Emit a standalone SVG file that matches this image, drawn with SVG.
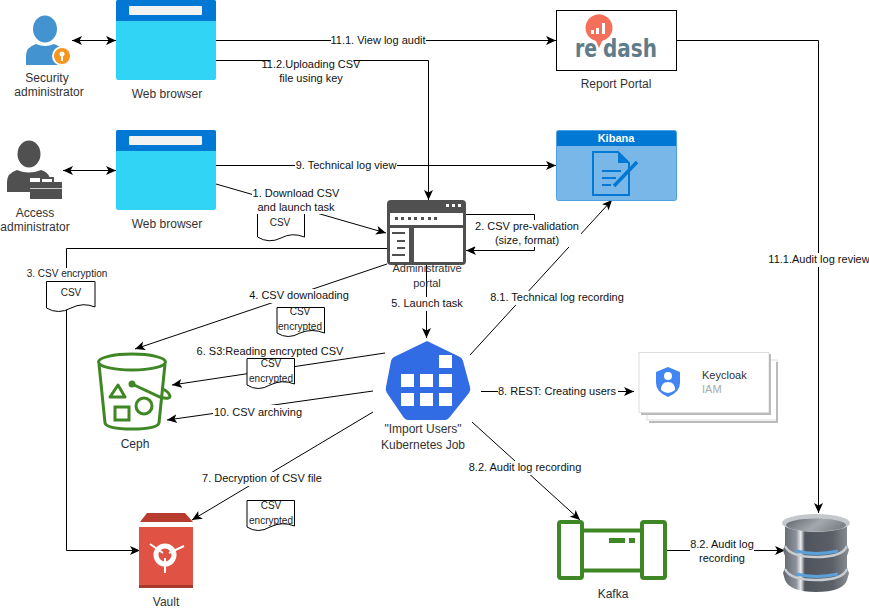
<svg xmlns="http://www.w3.org/2000/svg" width="869" height="609" viewBox="0 0 869 609">
<style>
text{font-family:"Liberation Sans",Arial,sans-serif;font-size:12px;fill:#333;text-anchor:middle}
.s{font-size:11px;fill:#111}
.d{font-size:10px;fill:#222}
.c{fill:none;stroke:#000;stroke-width:1}
.lb{fill:#fff;stroke:none}
.doc{fill:#fff;stroke:#000;stroke-width:1}
</style>
<defs>
<marker id="a" markerWidth="12" markerHeight="10" refX="10" refY="5" orient="auto-start-reverse" markerUnits="userSpaceOnUse"><path d="M0 0.500L10 5L0 9.500L2.500 5Z" fill="#000"/></marker>
<linearGradient id="cyl" x1="0" x2="1" y1="0" y2="0"><stop offset="0" stop-color="#62666e"/><stop offset=".2" stop-color="#8d929a"/><stop offset=".27" stop-color="#eceef0"/><stop offset=".33" stop-color="#50555d"/><stop offset=".75" stop-color="#5b6068"/><stop offset="1" stop-color="#8a8f96"/></linearGradient>
<linearGradient id="topg" x1="0" x2="1" y1="0" y2="0.300"><stop offset="0" stop-color="#5f646c"/><stop offset=".6" stop-color="#a4a8ae"/><stop offset="1" stop-color="#80848b"/></linearGradient>
</defs>

<g id="connectors">
<path class="c" marker-start="url(#a)" marker-end="url(#a)" d="M72 40.500H116"/>
<path class="c" marker-start="url(#a)" marker-end="url(#a)" d="M63 170.500H116"/>
<path class="c" marker-end="url(#a)" d="M216 40.500H556"/>
<path class="c" marker-end="url(#a)" d="M216 60.500H428.500V200"/>
<path class="c" marker-end="url(#a)" d="M216 165.500H556"/>
<path class="c" marker-end="url(#a)" d="M216 184L386 233"/>
<path class="c" marker-end="url(#a)" d="M466 214.500H534.500V250.500H466"/>
<path class="c" marker-end="url(#a)" d="M387 248.500H66.500V550.500H140"/>
<path class="c" marker-end="url(#a)" d="M387 264L135 349"/>
<path class="c" marker-end="url(#a)" d="M426.500 265V338"/>
<path class="c" marker-end="url(#a)" d="M385 353L172 385"/>
<path class="c" marker-end="url(#a)" d="M373 391L167 420"/>
<path class="c" marker-end="url(#a)" d="M373 412L192 520"/>
<path class="c" marker-end="url(#a)" d="M481 391.500H634"/>
<path class="c" marker-end="url(#a)" d="M470 355L612 200"/>
<path class="c" marker-end="url(#a)" d="M472 422L580 520"/>
<path class="c" marker-end="url(#a)" d="M667 550.500H785"/>
<path class="c" marker-end="url(#a)" d="M677 40.500H818.500V513"/>
</g>

<g id="doc-csv-1"><path class="doc" d="M257.500 213.500H304.500V237Q292 232 281 238Q269 244 257.500 237Z"/><text class="d" x="280" y="226">CSV</text></g>

<g id="connector-labels">
<rect class="lb" x="331" y="33" width="95" height="14"/><text class="s" x="378" y="44">11.1. View log audit</text>
<rect class="lb" x="270" y="58" width="84" height="27"/><text class="s" x="311" y="68">11.2.Uploading CSV</text><text class="s" x="311" y="82">file using key</text>
<rect class="lb" x="295" y="159" width="102" height="14"/><text class="s" x="346" y="169">9. Technical log view</text>
<rect class="lb" x="252" y="187" width="89" height="27"/><text class="s" x="296" y="197">1. Download CSV</text><text class="s" x="296" y="211">and launch task</text>
<rect class="lb" x="475" y="220" width="106" height="27"/><text class="s" x="527" y="230">2. CSV pre-validation</text><text class="s" x="527" y="244">(size, format)</text>
<rect class="lb" x="27" y="268" width="82" height="13"/><text class="d" x="67" y="277">3. CSV encryption</text>
<rect class="lb" x="248" y="289" width="102" height="14"/><text class="s" x="299" y="299">4. CSV downloading</text>
<rect class="lb" x="391" y="297" width="73" height="14"/><text class="s" x="427" y="307">5. Launch task</text>
<rect class="lb" x="490" y="291" width="134" height="14"/><text class="s" x="557" y="301">8.1. Technical log recording</text>
<rect class="lb" x="196" y="345" width="150" height="13"/><text class="s" x="270" y="355">6. S3:Reading encrypted CSV</text>
<rect class="lb" x="213" y="405" width="90" height="14"/><text class="s" x="258" y="416">10. CSV archiving</text>
<rect class="lb" x="201" y="472" width="124" height="14"/><text class="s" x="262" y="482">7. Decryption of CSV file</text>
<rect class="lb" x="498" y="384" width="120" height="14"/><text class="s" x="557" y="395">8. REST: Creating users</text>
<rect class="lb" x="469" y="461" width="114" height="14"/><text class="s" x="525" y="471">8.2. Audit log recording</text>
<rect class="lb" x="690" y="537" width="64" height="28"/><text class="s" x="722" y="548">8.2. Audit log</text><text class="s" x="722" y="562">recording</text>
<rect class="lb" x="766" y="253" width="103" height="14"/><text class="s" x="819" y="263">11.1.Audit log review</text>
</g>

<g id="doc-csv-2"><path class="doc" d="M46.500 281.500H95V307Q83 302 71 308Q58 315 46.500 308Z"/><text class="d" x="71" y="296">CSV</text></g>
<g id="doc-csv-3"><path class="doc" d="M277 307.500H324.500V333Q312 328 300 333Q288 340 277 333Z"/><text class="d" x="300" y="315">CSV</text><text class="d" x="300" y="330">encrypted</text></g>
<g id="doc-csv-4"><path class="doc" d="M247 358.500H294.500V384Q282 379 270 385Q258 392 247 385Z"/><text class="d" x="271" y="367">CSV</text><text class="d" x="271" y="382">encrypted</text></g>
<g id="doc-csv-5"><path class="doc" d="M247 500.500H294.500V526Q282 521 270 527Q258 534 247 527Z"/><text class="d" x="271" y="509">CSV</text><text class="d" x="271" y="524">encrypted</text></g>

<g id="security-admin">
<ellipse cx="45" cy="29" rx="12" ry="13.500" fill="#4393d0"/>
<path d="M26 65V56Q26 47 36 44Q45 48 54 44Q64 47 65 56V65Z" fill="#4393d0"/>
<circle cx="62" cy="56" r="10" fill="#fff"/><circle cx="62" cy="56" r="8" fill="#f7941d"/>
<circle cx="62" cy="54" r="2.500" fill="#fff"/><path d="M61 55H63V61H61Z" fill="#fff"/>
<text x="47" y="82">Security</text><text x="49" y="96">administrator</text>
</g>
<g id="browser-1">
<rect x="116" y="0" width="100" height="80" rx="2" fill="#32d4f5"/>
<path d="M116 21V2Q116 0 118 0H214Q216 0 216 2V21Z" fill="#0078d4"/>
<rect x="129" y="6" width="73" height="9" fill="#f2f2f2" rx="1"/>
<text x="167" y="98">Web browser</text>
</g>
<g id="access-admin">
<ellipse cx="29" cy="154" rx="11.500" ry="13.500" fill="#505050"/>
<path d="M7 192V182Q7 173 17 170Q29 175 41 170Q48 172 50 178H30V192Z" fill="#505050"/>
<path d="M41 182V178H53V182" stroke="#505050" stroke-width="2" fill="none"/>
<rect x="30" y="182" width="32" height="17" fill="#505050"/>
<path d="M30 188.500H62" stroke="#ccc" stroke-width="1" fill="none"/>
<text x="35" y="217">Access</text><text x="35" y="231">administrator</text>
</g>
<g id="browser-2">
<rect x="116" y="130" width="100" height="80" rx="2" fill="#32d4f5"/>
<path d="M116 151V132Q116 130 118 130H214Q216 130 216 132V151Z" fill="#0078d4"/>
<rect x="129" y="136" width="73" height="9" fill="#f2f2f2" rx="1"/>
<text x="167" y="228">Web browser</text>
</g>
<g id="report-portal">
<rect x="556.500" y="10.500" width="120" height="60" fill="#fff" stroke="#000"/>
<path d="M596 41A13.500 13.500 0 1 1 602 41L599 48Z" fill="#f4705a"/>
<path d="M591 30h3v4h-3zM596 28h3v6h-3zM602 23h3v11h-3z" fill="#fff"/>
<text x="586" y="57" style="font-family:'DejaVu Sans',sans-serif;font-size:25px;font-weight:bold;fill:#5f7c8a" textLength="22" lengthAdjust="spacingAndGlyphs">re</text>
<text x="630" y="57" style="font-family:'DejaVu Sans',sans-serif;font-size:25px;font-weight:bold;fill:#5f7c8a" textLength="54" lengthAdjust="spacingAndGlyphs">dash</text>
<text x="616" y="88">Report Portal</text>
</g>
<g id="kibana">
<rect x="556.500" y="130.500" width="120" height="70" rx="2" fill="#78b7e8" stroke="#4c9fe0"/>
<path d="M557 146V132Q557 131 559 131H675Q676 131 676 132V146Z" fill="#0078d4"/>
<text x="616" y="142" style="fill:#fff;font-weight:bold;font-size:11px">Kibana</text>
<path d="M593 152H618L629 163V195H593Z" fill="none" stroke="#0078d4" stroke-width="2"/>
<path d="M618 152L629 163H618Z" fill="#0078d4"/>
<path d="M602 171H621M602 178H616M602 185H611" stroke="#0078d4" stroke-width="2" fill="none"/>
<path d="M614 186L637 162" stroke="#0078d4" stroke-width="3.500" fill="none"/>
</g>
<g id="admin-portal">
<rect x="387" y="200" width="79" height="65" rx="4" fill="#505050"/>
<rect x="390" y="213" width="73" height="12" fill="#fff"/>
<rect x="390" y="228" width="19" height="34" fill="#fff"/>
<rect x="414" y="228" width="49" height="34" fill="#fff"/>
<path d="M446 204h3v3h-3zM452 204h3v3h-3zM458 204h3v3h-3z" fill="#fff"/>
<path d="M395 217h3v3h-3zM401 217h3v3h-3zM408 217h3v3h-3zM414 217h3v3h-3zM421 217h3v3h-3zM428 217h3v3h-3zM434 217h3v3h-3z" fill="#505050"/>
<path d="M392 233H405M397 241H405M397 248H405M392 255H405" stroke="#505050" stroke-width="2" fill="none"/>
<text x="427" y="272" style="font-size:11px">Administrative</text><text x="427" y="287" style="font-size:11px">portal</text>
</g>
<g id="kubernetes-job">
<path d="M427 341L460 357Q462 358 463 361L470 387Q471 390 469 393L449 418Q447 420 445 420H408Q406 420 404 418L387 393Q385 390 386 387L391 361Q392 358 394 357Z" fill="#326ce5"/>
<path d="M439 355h13v13h-13zM401 374h13v13h-13zM420 374h13v13h-13zM439 374h13v13h-13zM401 393h13v13h-13zM420 393h13v13h-13zM439 393h13v13h-13z" fill="#fff"/>
<text x="423" y="433">"Import Users"</text><text x="423" y="449">Kubernetes Job</text>
</g>
<g id="keycloak">
<rect x="647" y="360" width="130" height="60" fill="#fff" stroke="#ddd"/>
<path d="M777 362V422H649" stroke="#bbb" stroke-width="2" fill="none"/>
<rect x="639" y="352.500" width="130" height="60" fill="#fff" stroke="#ddd"/>
<path d="M770 354V414H641" stroke="#bbb" stroke-width="2" fill="none"/>
<path d="M668 367L680 372V383Q680 392 668 397Q656 392 656 383V372Z" fill="#4285f4"/>
<circle cx="668" cy="376" r="4" fill="#fff"/><path d="M661 390Q661 382 668 382Q675 382 675 390Q668 396 661 390Z" fill="#fff"/>
<text x="702" y="379" style="text-anchor:start;font-size:11px">Keycloak</text>
<text x="702" y="393" style="text-anchor:start;font-size:11px;fill:#aaa">IAM</text>
</g>
<g id="ceph">
<path d="M99 364L105 423Q107 429 132 429Q157 429 159 423L165 364" fill="#fff" stroke="#3f8624" stroke-width="3"/>
<ellipse cx="132" cy="362" rx="33.500" ry="8" fill="#fff" stroke="#3f8624" stroke-width="3"/>
<path d="M132 384L160 397Q170 400 170 396Q169 392 163 389" fill="none" stroke="#3f8624" stroke-width="3"/>
<circle cx="132" cy="384" r="3.500" fill="#3f8624"/>
<path d="M118 385L125 397H110Z" fill="none" stroke="#3f8624" stroke-width="3" stroke-linejoin="round"/>
<circle cx="144" cy="406" r="8" fill="none" stroke="#3f8624" stroke-width="3"/>
<rect x="115" y="407" width="14" height="13" fill="none" stroke="#3f8624" stroke-width="3"/>
<text x="135" y="448" style="fill:#232f3e">Ceph</text>
</g>
<g id="vault">
<path d="M140 522L147 513H185L193 522Z" fill="#b83c2e"/>
<rect x="139" y="527" width="54" height="61" fill="#e05243"/>
<rect x="139" y="585" width="54" height="3" fill="#a63a2e"/>
<circle cx="165" cy="555" r="9" fill="none" stroke="#fff" stroke-width="5"/>
<path d="M150 544L163 553M184 546L169 553M165 558V573" stroke="#fff" stroke-width="2" fill="none"/>
<text x="166" y="606">Vault</text>
</g>
<g id="kafka">
<rect x="559" y="522" width="23" height="56" rx="2" fill="#fff" stroke="#3f8624" stroke-width="4"/>
<rect x="642" y="522" width="23" height="56" rx="2" fill="#fff" stroke="#3f8624" stroke-width="4"/>
<path d="M584 530.500H640M584 570.500H640" stroke="#3f8624" stroke-width="4" fill="none"/>
<path d="M609 538h16v5h-16zM629 538h6v5h-6z" fill="#3f8624"/>
<text x="613" y="598" style="fill:#232f3e">Kafka</text>
</g>
<g id="database">
<path d="M785 522V545L783 550L785 556V568L783 573L785 580Q790 592 816 592Q843 592 847 580L849 573L847 568V556L849 550L847 545V522Z" fill="url(#cyl)"/>
<ellipse cx="816" cy="523" rx="34" ry="9" fill="#c4c7cb"/>
<ellipse cx="816" cy="525" rx="30" ry="6.500" fill="url(#topg)"/>
<path d="M785 546Q790 557 816 557Q843 557 847 546" fill="none" stroke="#c8cdd2" stroke-width="2.500"/>
<path d="M796 551Q816 556 838 551" fill="none" stroke="#5ba0d8" stroke-width="3"/>
<path d="M785 569Q790 580 816 580Q843 580 847 569" fill="none" stroke="#c8cdd2" stroke-width="2.500"/>
<path d="M796 574Q816 579 838 574" fill="none" stroke="#5ba0d8" stroke-width="3"/>
</g>
</svg>
